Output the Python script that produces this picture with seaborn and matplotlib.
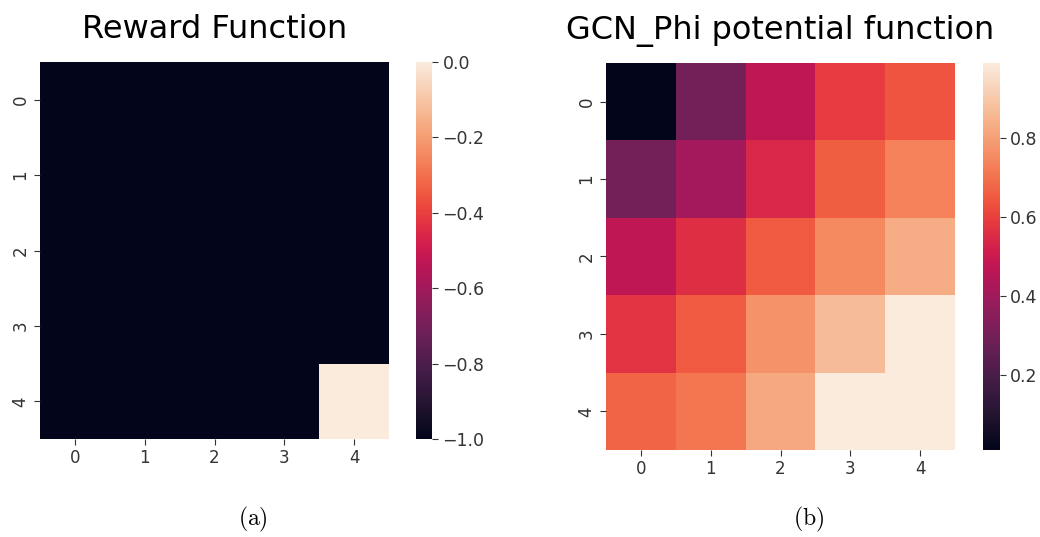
import numpy as np
import matplotlib
matplotlib.use("Agg")
import matplotlib.pyplot as plt
import seaborn as sns

rows = [0, 1, 2, 3, 4]
cols = [0, 1, 2, 3, 4]

reward_values = [
    [-1, -1, -1, -1, -1],
    [-1, -1, -1, -1, -1],
    [-1, -1, -1, -1, -1],
    [-1, -1, -1, -1, -1],
    [-1, -1, -1, -1, 0],
]

phi_values = [
    [0.01, 0.30, 0.47, 0.59, 0.64],
    [0.30, 0.41, 0.54, 0.66, 0.73],
    [0.47, 0.56, 0.65, 0.75, 0.83],
    [0.57, 0.65, 0.77, 0.87, 0.99],
    [0.67, 0.71, 0.82, 0.99, 0.99],
]

titles = ["Reward Function", "GCN_Phi potential function"]
captions = ["(a)", "(b)"]

plt.rcParams["mathtext.fontset"] = "cm"
fig = plt.figure(figsize=(10.4, 5.37), dpi=100)

ax1 = fig.add_axes([0.0385, 0.1825, 0.3356, 0.702])
cax1 = fig.add_axes([0.400, 0.1825, 0.0154, 0.702])
ax2 = fig.add_axes([0.5827, 0.162, 0.3356, 0.7207])
cax2 = fig.add_axes([0.945, 0.162, 0.0163, 0.7207])

sns.heatmap(np.array(reward_values), ax=ax1, cbar_ax=cax1, cmap="rocket",
            xticklabels=cols, yticklabels=rows)
sns.heatmap(np.array(phi_values), ax=ax2, cbar_ax=cax2, cmap="rocket",
            xticklabels=cols, yticklabels=rows)

tick_color = "#333333"
for ax, cax, title in [(ax1, cax1, titles[0]), (ax2, cax2, titles[1])]:
    ax.set_title(title, fontsize=23, pad=17)
    ax.tick_params(axis="both", labelsize=12, colors=tick_color, length=4)
    for lab in ax.get_yticklabels():
        lab.set_rotation(90)
        lab.set_va("center")
    cax.tick_params(labelsize=12.5, colors=tick_color, length=4)

fig.text(0.243, 0.032, r"$\mathrm{" + captions[0] + "}$", ha="center", va="center", fontsize=17)
fig.text(0.777, 0.032, r"$\mathrm{" + captions[1] + "}$", ha="center", va="center", fontsize=17)

fig.savefig("out.png", dpi=100)
